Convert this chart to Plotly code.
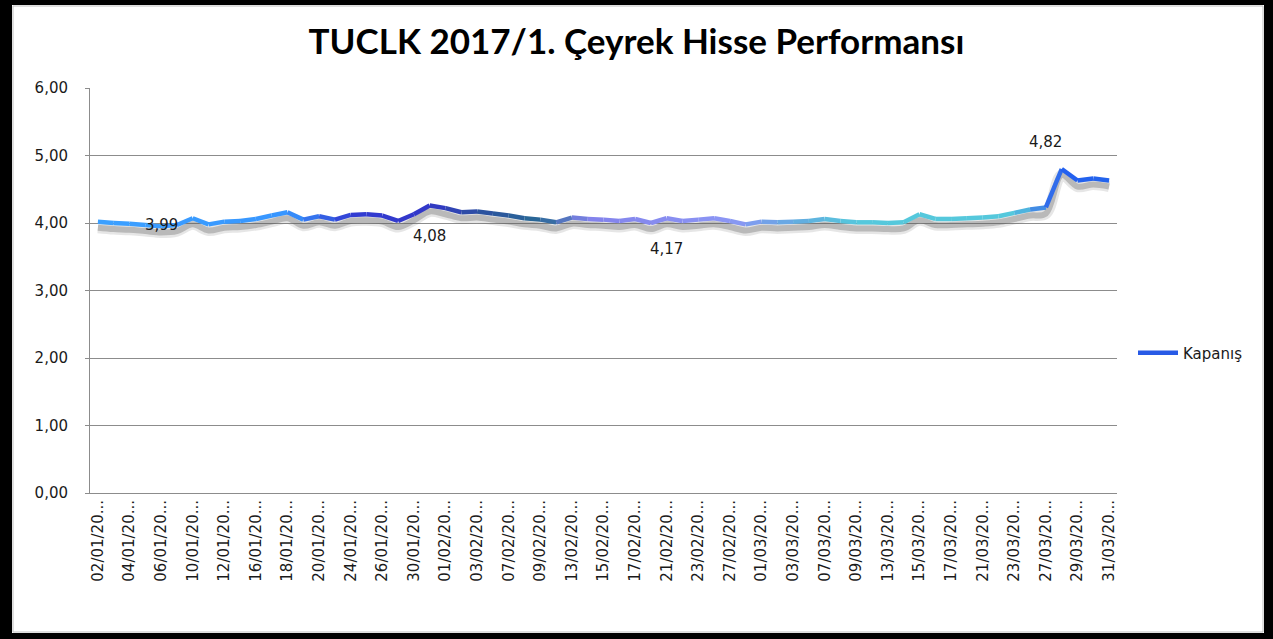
import plotly.graph_objects as go

# ---- data ----
dates = [
    "02/01/2017", "03/01/2017", "04/01/2017", "05/01/2017", "06/01/2017", "09/01/2017",
    "10/01/2017", "11/01/2017", "12/01/2017", "13/01/2017", "16/01/2017", "17/01/2017",
    "18/01/2017", "19/01/2017", "20/01/2017", "23/01/2017", "24/01/2017", "25/01/2017",
    "26/01/2017", "27/01/2017", "30/01/2017", "31/01/2017",
    "01/02/2017", "02/02/2017", "03/02/2017", "06/02/2017", "07/02/2017", "08/02/2017",
    "09/02/2017", "10/02/2017", "13/02/2017", "14/02/2017", "15/02/2017", "16/02/2017",
    "17/02/2017", "20/02/2017", "21/02/2017", "22/02/2017", "23/02/2017", "24/02/2017",
    "27/02/2017", "28/02/2017",
    "01/03/2017", "02/03/2017", "03/03/2017", "06/03/2017", "07/03/2017", "08/03/2017",
    "09/03/2017", "10/03/2017", "13/03/2017", "14/03/2017", "15/03/2017", "16/03/2017",
    "17/03/2017", "20/03/2017", "21/03/2017", "22/03/2017", "23/03/2017", "24/03/2017",
    "27/03/2017", "28/03/2017", "29/03/2017", "30/03/2017", "31/03/2017",
]
kapanis = [
    4.02, 4.00, 3.99, 3.97, 3.95, 3.97, 4.07, 3.98, 4.02, 4.03, 4.06, 4.11,
    4.16, 4.05, 4.10, 4.05, 4.12, 4.13, 4.11, 4.03, 4.13, 4.26,
    4.22, 4.16, 4.17, 4.14, 4.11, 4.07, 4.05, 4.01, 4.08, 4.06, 4.05, 4.03,
    4.06, 4.00, 4.07, 4.03, 4.05, 4.07, 4.03, 3.98,
    4.02, 4.01, 4.02, 4.03, 4.06, 4.03, 4.01, 4.01, 4.00, 4.01, 4.13, 4.06,
    4.06, 4.07, 4.08, 4.10, 4.15, 4.20, 4.23, 4.80, 4.63, 4.66, 4.63,
]
label_dates = ["06/01/2017", "31/01/2017", "21/02/2017", "27/03/2017"]
label_texts = ["3,99", "4,08", "4,17", "4,82"]
y_ticks = [0, 1, 2, 3, 4, 5, 6]
series_name = "Kapanış"
title_text = "TUCLK 2017/1. Çeyrek Hisse Performansı"

tick_dates = dates[::2]
tick_labels = [d[:8] + "..." for d in tick_dates]

# ---- style ----
color_stops = [
    (0, (60, 160, 255)), (12, (55, 150, 255)), (16, (50, 60, 210)), (21, (50, 55, 200)),
    (24, (45, 80, 160)), (28, (40, 105, 150)), (31, (130, 130, 235)), (40, (140, 150, 245)),
    (44, (100, 170, 225)), (48, (85, 200, 220)), (58, (85, 200, 220)), (60, (60, 120, 230)),
    (61, (35, 95, 240)), (64, (35, 100, 235)),
]


def color_at(t):
    for (a, ca), (b, cb) in zip(color_stops[:-1], color_stops[1:]):
        if a <= t <= b:
            f = (t - a) / (b - a) if b > a else 0
            c = [round(ca[k] + (cb[k] - ca[k]) * f) for k in range(3)]
            return "rgb(%d,%d,%d)" % tuple(c)
    return "rgb(%d,%d,%d)" % color_stops[-1][1]


fig = go.Figure()

# shadow
shadow_y = [v - 0.09 for v in kapanis]
fig.add_trace(go.Scatter(x=dates, y=shadow_y, mode="lines", line=dict(color="rgba(90,90,90,0.15)", width=11, shape="spline"),
                         showlegend=False, hoverinfo="skip"))
fig.add_trace(go.Scatter(x=dates, y=shadow_y, mode="lines", line=dict(color="rgba(90,90,90,0.32)", width=6, shape="spline"),
                         showlegend=False, hoverinfo="skip"))

# gradient line, one segment at a time
for i in range(len(dates) - 1):
    fig.add_trace(go.Scatter(
        x=dates[i:i + 2], y=kapanis[i:i + 2], mode="lines",
        line=dict(color=color_at(i + 0.5), width=4.5),
        showlegend=False, legendgroup="k", name=series_name, hoverinfo="x+y",
    ))

# legend entry
fig.add_trace(go.Scatter(x=[None], y=[None], mode="lines", name=series_name, legendgroup="k",
                         line=dict(color="rgb(40,90,230)", width=4.5)))

# data labels
label_y = [3.97, 3.81, 3.61, 5.20]
for d, t, yy in zip(label_dates, label_texts, label_y):
    fig.add_annotation(x=d, y=yy, text=t, showarrow=False,
                       font=dict(family="DejaVu Sans", size=15, color="#1a1a1a"))

# black outer frame
W, H = 1273, 639
L, R, T, B = 90, 1117, 88, 493
pw, ph = R - L, B - T


def px(xp):
    return (xp - L) / pw


def py(yp):
    return (B - yp) / ph


for (x0, y0, x1, y1) in [(0, 0, 12, H), (0, 0, W, 5), (1264, 0, W, H), (0, 633, W, H)]:
    fig.add_shape(type="rect", xref="paper", yref="paper", x0=px(x0), x1=px(x1), y0=py(y0), y1=py(y1),
                  fillcolor="black", line=dict(width=0), layer="above")
fig.add_shape(type="rect", xref="paper", yref="paper", x0=px(13), x1=px(1263), y0=py(6), y1=py(632),
              fillcolor="rgba(0,0,0,0)", line=dict(color="#bdbdbd", width=1), layer="above")

fig.update_layout(
    width=W, height=H,
    margin=dict(l=L, r=W - R, t=T, b=H - B),
    paper_bgcolor="white", plot_bgcolor="white",
    separators=",.",
    title=dict(text="<b>" + title_text + "</b>", x=0.5, xref="container", xanchor="center",
               y=1 - 42 / H, yanchor="middle",
               font=dict(family="Lato, Roboto, sans-serif", size=35, color="black")),
    showlegend=True,
    legend=dict(x=px(1133), y=py(353), xanchor="left", yanchor="middle", bgcolor="rgba(0,0,0,0)",
                font=dict(family="DejaVu Sans", size=15, color="#1a1a1a"), itemwidth=40, tracegroupgap=0),
    xaxis=dict(type="category", categoryorder="array", categoryarray=dates,
               tickmode="array", tickvals=tick_dates, ticktext=tick_labels, tickangle=-90,
               tickfont=dict(family="DejaVu Sans", size=15, color="#1a1a1a"),
               showgrid=False, showline=True, linecolor="#8c8c8c", linewidth=1,
               ticks="", range=[-0.5, len(dates) - 0.5]),
    yaxis=dict(range=[0, 6], tickmode="array", tickvals=y_ticks, tickformat=".2f",
               tickfont=dict(family="DejaVu Sans", size=15, color="#1a1a1a"),
               showgrid=True, gridcolor="#8c8c8c", gridwidth=1, zeroline=False,
               showline=True, linecolor="#8c8c8c", linewidth=1, ticks="outside", ticklen=4,
               tickcolor="#8c8c8c", ticklabelstandoff=14),
)

fig.write_html("out.html", config={"displayModeBar": False},
               post_script="document.body.style.margin='0';document.body.style.padding='0';")
